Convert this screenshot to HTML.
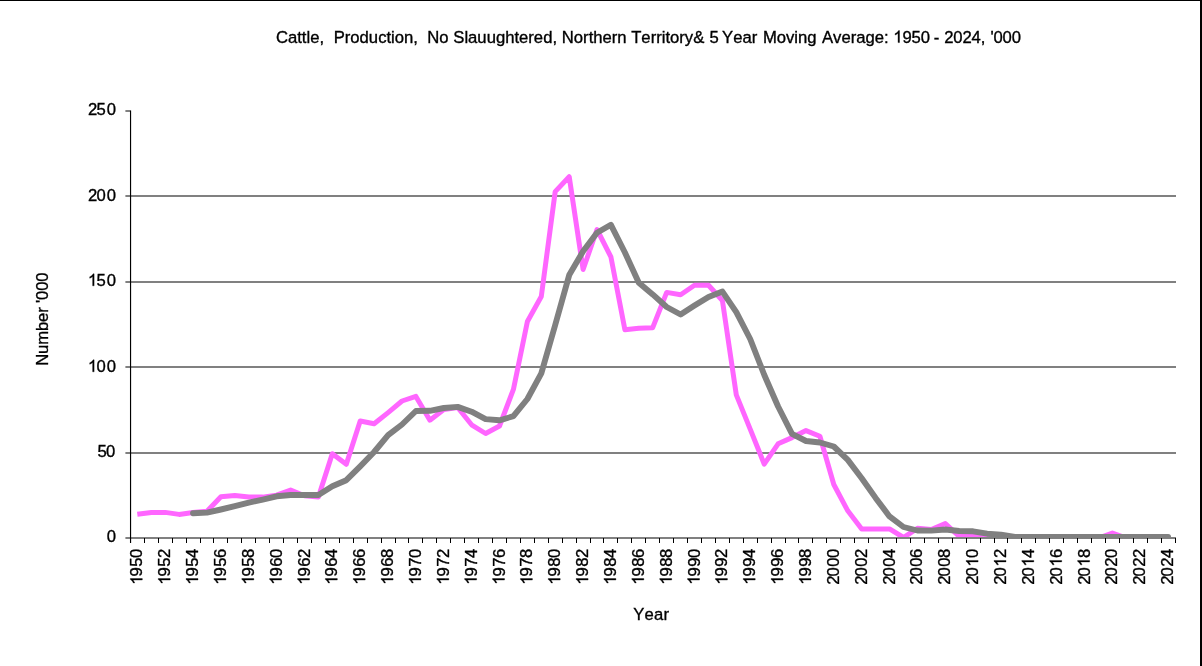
<!DOCTYPE html>
<html><head><meta charset="utf-8"><title>Chart</title>
<style>
html,body{margin:0;padding:0;background:#fff;}
body{width:1202px;height:666px;overflow:hidden;position:relative;}
svg{position:absolute;left:0;top:0;display:block;will-change:transform;}
text{font-family:"Liberation Sans",sans-serif;font-size:16.67px;fill:#000;stroke:#000;stroke-width:0.35px;font-kerning:none;}
.d{letter-spacing:-0.27px;}
.xl{letter-spacing:-0.6px;}
.yl{letter-spacing:0.05px;}
.yt{letter-spacing:-0.15px;}
.xt{letter-spacing:0.2px;}
.t{letter-spacing:-0.12px;}
</style></head><body>
<svg width="1202" height="666" viewBox="0 0 1202 666">
<rect x="0" y="0" width="1202" height="666" fill="#fff"/>
<defs><path id="g1" d="M6.211 0.000L4.745 0.000L4.745 -9.336Q4.216 -8.832 3.358 -8.327Q2.499 -7.822 1.815 -7.570L1.815 -8.986Q3.044 -9.564 3.964 -10.386Q4.884 -11.208 5.266 -11.982L6.211 -11.982Z" fill="#000" stroke="#000" stroke-width="0.35"/></defs>
<rect x="0" y="0" width="1202" height="1" fill="#000"/>
<rect x="1200" y="0" width="2" height="666" fill="#000"/>
<rect x="125.4" y="195" width="1050.6" height="2" fill="#808080"/>
<rect x="125.4" y="281" width="1050.6" height="2" fill="#808080"/>
<rect x="125.4" y="366" width="1050.6" height="2" fill="#808080"/>
<rect x="125.4" y="452" width="1050.6" height="2" fill="#808080"/>
<rect x="125.4" y="110" width="5.1" height="2" fill="#808080"/>
<clipPath id="pc"><rect x="130" y="100" width="1046" height="439"/></clipPath>
<g clip-path="url(#pc)">
<polyline fill="none" stroke="#ff66ff" stroke-width="5.0" stroke-linejoin="round" stroke-linecap="butt" points="137.3,514.2 151.3,512.4 165.2,512.4 179.1,514.4 193.0,512.5 207.0,511.3 220.9,496.8 234.8,495.4 248.8,497.1 262.7,497.1 276.6,495.1 290.6,490.1 304.5,495.8 318.4,497.1 332.3,453.7 346.3,464.3 360.2,421.0 374.1,423.8 388.1,412.6 402.0,401.0 415.9,396.4 429.9,420.2 443.8,409.6 457.7,407.5 471.6,424.8 485.6,433.5 499.5,426.0 513.4,389.4 527.4,321.5 541.3,296.5 555.2,191.6 569.2,176.7 583.1,269.5 597.0,229.5 610.9,256.9 624.9,329.7 638.8,328.2 652.7,327.7 666.7,292.4 680.6,294.7 694.5,285.2 708.5,285.2 722.4,300.5 736.3,394.9 750.2,429.1 764.2,464.1 778.1,443.8 792.0,437.6 806.0,430.6 819.9,436.2 833.8,484.5 847.8,510.8 861.7,528.9 875.6,528.9 889.5,528.9 903.5,537.5 917.4,528.3 931.3,529.5 945.3,523.5 959.2,536.3 973.1,536.3 987.1,537.3 1001.0,537.5 1014.9,538.0 1028.8,538.0 1042.8,538.0 1056.7,538.0 1070.6,538.0 1084.6,538.0 1098.5,538.0 1112.4,533.0 1126.4,538.0 1140.3,538.0 1154.2,538.0 1168.1,538.0"/>
<polyline fill="none" stroke="#808080" stroke-width="5.9" stroke-linejoin="round" stroke-linecap="round" points="193.0,513.2 207.0,512.6 220.9,509.5 234.8,506.1 248.8,502.6 262.7,499.6 276.6,496.3 290.6,495.0 304.5,495.0 318.4,495.0 332.3,486.3 346.3,480.2 360.2,466.4 374.1,452.0 388.1,435.1 402.0,424.5 415.9,411.0 429.9,410.8 443.8,408.0 457.7,406.9 471.6,411.7 485.6,419.1 499.5,420.3 513.4,416.2 527.4,399.0 541.3,373.4 555.2,325.0 569.2,275.1 583.1,251.2 597.0,232.8 610.9,224.8 624.9,252.5 638.8,282.8 652.7,294.4 666.7,307.0 680.6,314.5 694.5,305.6 708.5,297.0 722.4,291.6 736.3,312.1 750.2,339.0 764.2,374.8 778.1,406.5 792.0,433.9 806.0,441.0 819.9,442.5 833.8,446.5 847.8,459.9 861.7,478.2 875.6,497.9 889.5,516.4 903.5,527.0 917.4,530.5 931.3,530.6 945.3,529.5 959.2,531.0 973.1,531.3 987.1,533.7 1001.0,534.6 1014.9,537.0 1028.8,537.0 1042.8,537.0 1056.7,537.0 1070.6,537.0 1084.6,537.0 1098.5,537.0 1112.4,537.0 1126.4,537.0 1140.3,537.0 1154.2,537.0 1168.1,537.0"/>
</g>
<line x1="125.4" y1="538.0" x2="1176" y2="538.0" stroke="#808080" stroke-width="2"/>
<line x1="130.55" y1="110.6" x2="130.55" y2="543" stroke="#000" stroke-width="1.15"/>
<path d="M144.5 538.0V543M158.5 538.0V543M172.5 538.0V543M186.5 538.0V543M200.5 538.0V543M213.5 538.0V543M227.5 538.0V543M241.5 538.0V543M255.5 538.0V543M269.5 538.0V543M283.5 538.0V543M297.5 538.0V543M311.5 538.0V543M325.5 538.0V543M339.5 538.0V543M353.5 538.0V543M367.5 538.0V543M381.5 538.0V543M395.5 538.0V543M408.5 538.0V543M422.5 538.0V543M436.5 538.0V543M450.5 538.0V543M464.5 538.0V543M478.5 538.0V543M492.5 538.0V543M506.5 538.0V543M520.5 538.0V543M534.5 538.0V543M548.5 538.0V543M562.5 538.0V543M576.5 538.0V543M590.5 538.0V543M603.5 538.0V543M617.5 538.0V543M631.5 538.0V543M645.5 538.0V543M659.5 538.0V543M673.5 538.0V543M687.5 538.0V543M701.5 538.0V543M715.5 538.0V543M729.5 538.0V543M743.5 538.0V543M757.5 538.0V543M771.5 538.0V543M785.5 538.0V543M798.5 538.0V543M812.5 538.0V543M826.5 538.0V543M840.5 538.0V543M854.5 538.0V543M868.5 538.0V543M882.5 538.0V543M896.5 538.0V543M910.5 538.0V543M924.5 538.0V543M938.5 538.0V543M952.5 538.0V543M966.5 538.0V543M980.5 538.0V543M994.5 538.0V543M1007.5 538.0V543M1021.5 538.0V543M1035.5 538.0V543M1049.5 538.0V543M1063.5 538.0V543M1077.5 538.0V543M1091.5 538.0V543M1105.5 538.0V543M1119.5 538.0V543M1133.5 538.0V543M1147.5 538.0V543M1161.5 538.0V543M1175.5 538.0V543" stroke="#000" stroke-width="1" fill="none"/>
<text x="106.85" y="541.9">0</text>
<text x="97.55 106.00" y="456.8">50</text>
<use href="#g1" x="87.90" y="371.8"/><text x="96.50 106.85" y="371.8">00</text>
<use href="#g1" x="87.90" y="285.8"/><text x="96.50 106.85" y="285.8">50</text>
<text x="87.90 96.50 106.85" y="200.8">200</text>
<text x="87.90 96.50 106.85" y="115.0">250</text>
<g transform="translate(142.3,584.75) rotate(-90)"><use href="#g1" x="0.00" y="0"/><text x="8.25 18.10 26.70" y="0">950</text></g>
<g transform="translate(170.2,584.75) rotate(-90)"><use href="#g1" x="0.00" y="0"/><text x="8.25 18.10 26.70" y="0">952</text></g>
<g transform="translate(198.0,584.75) rotate(-90)"><use href="#g1" x="0.00" y="0"/><text x="8.25 18.10 26.70" y="0">954</text></g>
<g transform="translate(225.9,584.75) rotate(-90)"><use href="#g1" x="0.00" y="0"/><text x="8.25 18.10 26.70" y="0">956</text></g>
<g transform="translate(253.8,584.75) rotate(-90)"><use href="#g1" x="0.00" y="0"/><text x="8.25 18.10 26.70" y="0">958</text></g>
<g transform="translate(281.6,584.75) rotate(-90)"><use href="#g1" x="0.00" y="0"/><text x="8.25 18.10 26.70" y="0">960</text></g>
<g transform="translate(309.5,584.75) rotate(-90)"><use href="#g1" x="0.00" y="0"/><text x="8.25 18.10 26.70" y="0">962</text></g>
<g transform="translate(337.3,584.75) rotate(-90)"><use href="#g1" x="0.00" y="0"/><text x="8.25 18.10 26.70" y="0">964</text></g>
<g transform="translate(365.2,584.75) rotate(-90)"><use href="#g1" x="0.00" y="0"/><text x="8.25 18.10 26.70" y="0">966</text></g>
<g transform="translate(393.1,584.75) rotate(-90)"><use href="#g1" x="0.00" y="0"/><text x="8.25 18.10 26.70" y="0">968</text></g>
<g transform="translate(420.9,584.75) rotate(-90)"><use href="#g1" x="0.00" y="0"/><text x="8.25 18.10 26.70" y="0">970</text></g>
<g transform="translate(448.8,584.75) rotate(-90)"><use href="#g1" x="0.00" y="0"/><text x="8.25 18.10 26.70" y="0">972</text></g>
<g transform="translate(476.6,584.75) rotate(-90)"><use href="#g1" x="0.00" y="0"/><text x="8.25 18.10 26.70" y="0">974</text></g>
<g transform="translate(504.5,584.75) rotate(-90)"><use href="#g1" x="0.00" y="0"/><text x="8.25 18.10 26.70" y="0">976</text></g>
<g transform="translate(532.4,584.75) rotate(-90)"><use href="#g1" x="0.00" y="0"/><text x="8.25 18.10 26.70" y="0">978</text></g>
<g transform="translate(560.2,584.75) rotate(-90)"><use href="#g1" x="0.00" y="0"/><text x="8.25 18.10 26.70" y="0">980</text></g>
<g transform="translate(588.1,584.75) rotate(-90)"><use href="#g1" x="0.00" y="0"/><text x="8.25 18.10 26.70" y="0">982</text></g>
<g transform="translate(615.9,584.75) rotate(-90)"><use href="#g1" x="0.00" y="0"/><text x="8.25 18.10 26.70" y="0">984</text></g>
<g transform="translate(643.8,584.75) rotate(-90)"><use href="#g1" x="0.00" y="0"/><text x="8.25 18.10 26.70" y="0">986</text></g>
<g transform="translate(671.7,584.75) rotate(-90)"><use href="#g1" x="0.00" y="0"/><text x="8.25 18.10 26.70" y="0">988</text></g>
<g transform="translate(699.5,584.75) rotate(-90)"><use href="#g1" x="0.00" y="0"/><text x="8.25 18.10 26.70" y="0">990</text></g>
<g transform="translate(727.4,584.75) rotate(-90)"><use href="#g1" x="0.00" y="0"/><text x="8.25 18.10 26.70" y="0">992</text></g>
<g transform="translate(755.2,584.75) rotate(-90)"><use href="#g1" x="0.00" y="0"/><text x="8.25 18.10 26.70" y="0">994</text></g>
<g transform="translate(783.1,584.75) rotate(-90)"><use href="#g1" x="0.00" y="0"/><text x="8.25 18.10 26.70" y="0">996</text></g>
<g transform="translate(811.0,584.75) rotate(-90)"><use href="#g1" x="0.00" y="0"/><text x="8.25 18.10 26.70" y="0">998</text></g>
<g transform="translate(838.8,584.75) rotate(-90)"><text x="0.00 8.25 18.10 26.70" y="0">2000</text></g>
<g transform="translate(866.7,584.75) rotate(-90)"><text x="0.00 8.25 18.10 26.70" y="0">2002</text></g>
<g transform="translate(894.5,584.75) rotate(-90)"><text x="0.00 8.25 18.10 26.70" y="0">2004</text></g>
<g transform="translate(922.4,584.75) rotate(-90)"><text x="0.00 8.25 18.10 26.70" y="0">2006</text></g>
<g transform="translate(950.3,584.75) rotate(-90)"><text x="0.00 8.25 18.10 26.70" y="0">2008</text></g>
<g transform="translate(978.1,584.75) rotate(-90)"><text x="0.00 8.25" y="0">20</text><use href="#g1" x="18.10" y="0"/><text x="26.70" y="0">0</text></g>
<g transform="translate(1006.0,584.75) rotate(-90)"><text x="0.00 8.25" y="0">20</text><use href="#g1" x="18.10" y="0"/><text x="26.70" y="0">2</text></g>
<g transform="translate(1033.8,584.75) rotate(-90)"><text x="0.00 8.25" y="0">20</text><use href="#g1" x="18.10" y="0"/><text x="26.70" y="0">4</text></g>
<g transform="translate(1061.7,584.75) rotate(-90)"><text x="0.00 8.25" y="0">20</text><use href="#g1" x="18.10" y="0"/><text x="26.70" y="0">6</text></g>
<g transform="translate(1089.6,584.75) rotate(-90)"><text x="0.00 8.25" y="0">20</text><use href="#g1" x="18.10" y="0"/><text x="26.70" y="0">8</text></g>
<g transform="translate(1117.4,584.75) rotate(-90)"><text x="0.00 8.25 18.10 26.70" y="0">2020</text></g>
<g transform="translate(1145.3,584.75) rotate(-90)"><text x="0.00 8.25 18.10 26.70" y="0">2022</text></g>
<g transform="translate(1173.1,584.75) rotate(-90)"><text x="0.00 8.25 18.10 26.70" y="0">2024</text></g>
<text x="275.9" y="42.6">Cattle,</text>
<text x="333.7" y="42.6">Production,</text>
<text x="427.2" y="42.6">No</text>
<text x="453.3" y="42.6">Slauughtered,</text>
<text x="561.8" y="42.6">Northern</text>
<text x="631.2" y="42.6">Territory&amp;</text>
<text x="709.4" y="42.6" class="t">5</text>
<text x="722.1" y="42.6">Year</text>
<text x="762.9" y="42.6">Moving</text>
<text x="822.0" y="42.6">Average:</text>
<use href="#g1" x="893.30" y="42.6"/><text x="902.45 911.60 920.76" y="42.6">950</text>
<text x="933.8" y="42.6">-</text>
<text x="944.2" y="42.6" class="t">2024,</text>
<text x="990.4" y="42.6" class="t">'000</text>
<text x="633.3" y="619.6" class="xt">Year</text>
<text transform="translate(48.3,365.8) rotate(-90)" class="yt">Number '000</text>
</svg>
</body></html>
